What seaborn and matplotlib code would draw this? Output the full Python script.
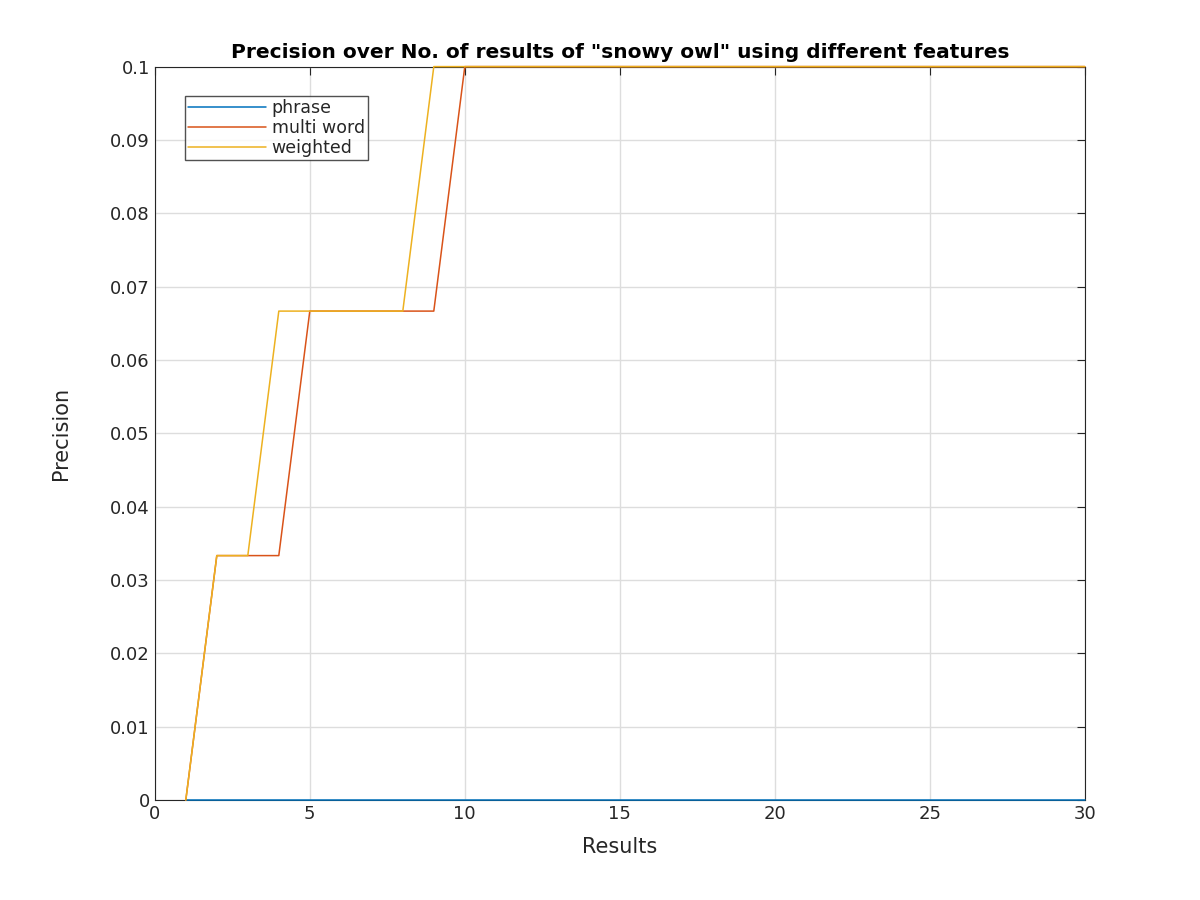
import matplotlib
matplotlib.use("Agg")
import matplotlib.pyplot as plt
import seaborn as sns
import numpy as np
import pandas as pd

results = list(range(1, 31))
phrase = [0.0] * 30
multi_word = [0, 1/30, 1/30, 1/30] + [2/30] * 5 + [0.1] * 21
weighted = [0, 1/30, 1/30] + [2/30] * 5 + [0.1] * 22

sns.set_style("white")
plt.rcParams['font.family'] = ['DejaVu Sans']
fig = plt.figure(figsize=(12, 9), dpi=100)
ax = fig.add_axes([0.129, 0.111, 0.775, 0.815])

df = pd.DataFrame({"Results": results * 3,
                   "Precision": phrase + multi_word + weighted,
                   "feature": ["phrase"] * 30 + ["multi word"] * 30 + ["weighted"] * 30})
sns.lineplot(data=df, x="Results", y="Precision", hue="feature",
             palette=["#0072BD", "#D95319", "#EDB120"], linewidth=1.1, ax=ax)
for ln in ax.get_lines():
    ln.set_clip_on(False)
    ln.set_zorder(5)

ax.set_xlim(0, 30)
ax.set_ylim(0, 0.1)
ax.set_xticks(np.arange(0, 31, 5))
ax.set_yticks(np.arange(0, 0.101, 0.01))
ax.set_yticklabels(["0"] + [f"{v:.2f}" for v in np.arange(0.01, 0.1, 0.01)] + ["0.1"])
ax.grid(True, color="#dddddd", linewidth=1)
ax.tick_params(direction="in", top=True, right=True, length=6, labelsize=13, colors="#262626")
for s in ax.spines.values():
    s.set_color("#262626")
    s.set_linewidth(0.8)
ax.set_xlabel("Results", fontsize=15, color="#262626", labelpad=10)
ax.set_ylabel("Precision", fontsize=15, color="#262626", labelpad=28)
ax.set_title('Precision over No. of results of "snowy owl" using different features',
             fontsize=14.5, fontweight="bold", pad=6, color="black")
leg = ax.legend(loc="upper left", bbox_to_anchor=(0.023, 0.972), fontsize=12.5,
                frameon=True, fancybox=False, edgecolor="#262626", borderpad=0.2,
                handlelength=4.5, labelspacing=0.1, handletextpad=0.3)
leg.get_frame().set_linewidth(1)
fig.savefig("out.png", dpi=100)
